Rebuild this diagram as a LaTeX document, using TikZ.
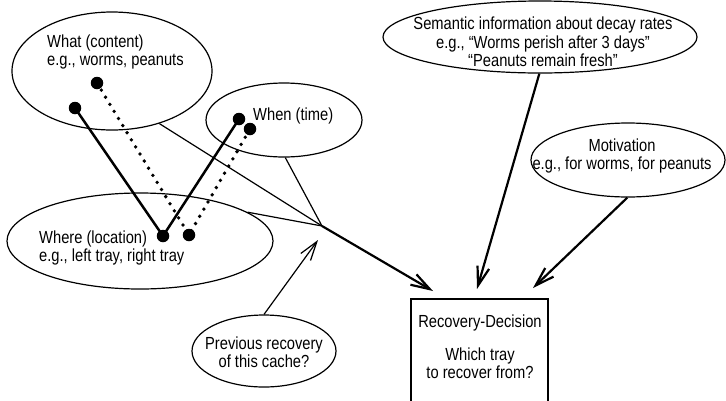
\documentclass[tikz,border=0pt]{standalone}
\usepackage{fontspec}
\setmainfont{Liberation Sans}[FakeStretch=0.84]
\usetikzlibrary{shapes.geometric,arrows.meta}
\begin{document}
\begin{tikzpicture}[x=1pt,y=-1pt,
  font=\fontsize{17.5}{18.5}\selectfont,
  oval/.style={draw, ellipse, line width=1.2pt, inner sep=0pt},
  dotnode/.style={circle, fill=black, inner sep=0pt, minimum size=12.5pt},
  thinln/.style={line width=1.2pt},
  thickln/.style={line width=2.2pt},
  solidpath/.style={line width=2.5pt},
  dotpath/.style={line width=3.8pt, dash pattern=on 0pt off 8.3pt, line cap=round},
  arr/.style={-{Straight Barb[length=19pt,width=12pt]}},
  txt/.style={inner sep=0pt, align=left}]
\clip (0,0) rectangle (726,400);
% ovals
\node[oval, minimum width=200, minimum height=118] (what) at (112,71) {};
\node[oval, minimum width=156, minimum height=74] (when) at (284,120) {};
\node[oval, minimum width=266, minimum height=96] (where) at (140,241) {};
\node[oval, minimum width=144, minimum height=72] (prev) at (264,351) {};
\node[oval, minimum width=314, minimum height=72] (sem) at (540,37) {};
\node[oval, minimum width=194, minimum height=74] (mot) at (628,160) {};
\node[draw, line width=1.2pt, minimum width=137, minimum height=106, inner sep=0pt] (box) at (479.5,352) {};
% texts
\node[txt, anchor=west] (whatT) at (47,52) {What (content)\\e.g., worms, peanuts};
\node[txt, anchor=west] (whenT) at (253,116) {When (time)};
\node[txt, anchor=west] (whereT) at (39,248) {Where (location)\\e.g., left tray, right tray};
\node[txt, align=center] (prevT) at (264,352) {Previous recovery\\of this cache?};
\node[txt, align=center] (semT) at (543,42) {Semantic information about decay rates\\e.g., “Worms perish after 3 days”\\“Peanuts remain fresh”};
\node[txt, align=center] (motT) at (622,156) {Motivation\\e.g., for worms, for peanuts};
\node[txt, align=center] (boxT) at (480,347) {Recovery-Decision\\[14pt]Which tray\\to recover from?};
% dots
\node[dotnode] (a1) at (75,108) {};
\node[dotnode] (a2) at (97,83) {};
\node[dotnode] (b1) at (239,119) {};
\node[dotnode] (b2) at (250,129) {};
\node[dotnode] (c1) at (163,236) {};
\node[dotnode] (c2) at (189,235) {};
\draw[solidpath] (a1.center) -- (c1.center) -- (b1.center);
\draw[dotpath] (a2.center) -- (c2.center) -- (b2.center);
% connectors
\coordinate (C) at (322,226);
\coordinate (t1) at (433,291);
\coordinate (t2) at (477,289);
\coordinate (t3) at (533,288);
\coordinate (tp) at (318,240);
\draw[thinln] (what.-48) -- (C);
\draw[thinln] (when.-88) -- (C);
\draw[thinln] (where.15) -- (C);
\draw[thickln, arr] (C) -- (t1);
\draw[thickln, arr] (sem.-91) -- (t2);
\draw[thickln, arr] (mot.-91) -- (t3);
\draw[thinln, arr] (prev.north) -- (tp);
\end{tikzpicture}
\end{document}
